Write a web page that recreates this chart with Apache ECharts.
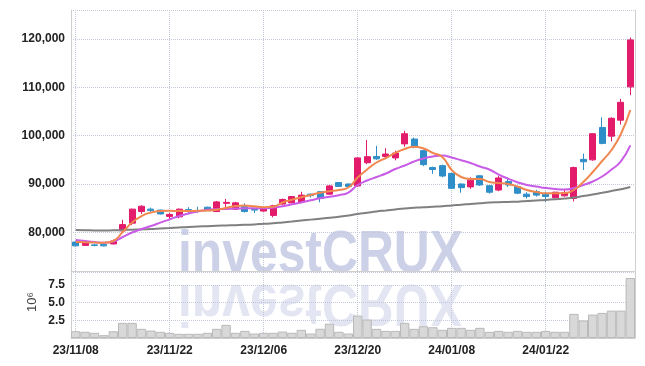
<!DOCTYPE html>
<html>
<head>
<meta charset="utf-8">
<script src="https://cdn.jsdelivr.net/npm/echarts@6/dist/echarts.min.js"></script>
<style>html,body{margin:0;padding:0;background:#fff}#c{width:645px;height:366px}</style>
</head>
<body>
<div id="c"></div>
<script>
const categories = ['23/11/08','23/11/09','23/11/10','23/11/13','23/11/14','23/11/15','23/11/16','23/11/17','23/11/20','23/11/21',
'23/11/22','23/11/23','23/11/24','23/11/27','23/11/28','23/11/29','23/11/30','23/12/01','23/12/04','23/12/05',
'23/12/06','23/12/07','23/12/08','23/12/11','23/12/12','23/12/13','23/12/14','23/12/15','23/12/18','23/12/19',
'23/12/20','23/12/21','23/12/22','23/12/26','23/12/27','23/12/28','24/01/02','24/01/03','24/01/04','24/01/05',
'24/01/08','24/01/09','24/01/10','24/01/11','24/01/12','24/01/15','24/01/16','24/01/17','24/01/18','24/01/19',
'24/01/22','24/01/23','24/01/24','24/01/25','24/01/26','24/01/29','24/01/30','24/01/31','24/02/01','24/02/02'];

const opens  = [78000,77300,77400,77500,77600,80300,81900,84300,84800,84600,83300,83200,84700,84500,85200,84300,86000,84800,85300,84800,84400,83500,85850,86100,86300,87900,88400,87900,90300,90000,89600,94400,95700,95700,95400,98300,99300,96900,93400,93800,92200,90000,89400,91700,89650,88750,90500,89450,87900,88400,87900,87150,87550,87000,95100,95000,101700,99900,103200,110100];
const closes = [77200,77800,77300,77200,78200,81600,84800,85400,84500,83800,83700,84800,84400,84400,84500,86300,86200,86100,84300,84600,85100,85500,86800,87400,87700,87600,87000,89600,89500,89500,95400,95650,95200,96200,96400,100400,97700,94000,93000,91650,89100,89250,90800,89800,88300,91250,89800,88100,87400,87700,87400,88300,88250,93400,94600,100400,98400,103600,106900,119800];
const lows   = [77100,77200,77100,77100,77500,80200,81500,83800,84100,83700,82600,82900,84000,84100,84400,84200,85200,84600,84100,84000,84300,83100,85700,86000,86200,87200,86200,87800,89400,89200,89400,94100,95000,95400,94900,97700,97400,93700,92100,91400,89000,88200,89000,89600,88000,88500,89400,87900,87000,87400,86300,87000,87400,86400,92900,94800,98200,98800,102300,108400];
const highs  = [78100,77900,77600,77600,78500,82600,84900,85600,85100,84700,84000,84900,85200,85300,85300,86500,86900,86300,86000,85000,85200,85700,87000,87500,88400,88000,88500,89800,90300,90100,95500,99100,97900,97400,96900,101000,99600,97100,93600,94000,92300,90100,91400,91800,89800,91700,91250,89500,88300,88800,88400,88400,88900,93600,96300,100500,103800,103800,107600,120300];

const maShort = [77990,77930,77890,77850,78200,80060,82030,83370,84100,84410,84450,84410,84410,84450,84510,84660,85030,85440,85550,85380,85180,85280,86170,86730,87270,87720,88200,88490,88760,89270,91340,93000,94450,95380,96420,97240,97720,97350,96420,95590,92900,91450,91030,91030,90410,90210,90000,89480,88760,88350,88070,88070,88140,88760,90410,92480,94760,97040,100350,105320];
const maMid   = [78410,78200,77990,77850,78100,79030,79960,80680,81300,82010,82690,83370,83890,84310,84660,84780,84820,84910,84970,84970,84970,85130,85400,85800,86190,86620,87040,87370,87680,88240,89790,90720,91450,92170,93100,93830,94660,95280,95690,95900,95480,94920,94350,93620,93000,91960,91100,90370,89790,89480,89170,88960,88860,89170,89790,90520,91550,93000,94660,97970];
const maLong  = [80480,80430,80390,80370,80430,80480,80540,80600,80680,80790,80890,81010,81120,81200,81280,81370,81430,81490,81550,81640,81760,81860,82050,82240,82440,82630,82820,83000,83210,83480,83790,84060,84330,84530,84740,84930,85070,85200,85300,85400,85570,85710,85880,86020,86150,86230,86290,86350,86480,86580,86690,86830,87000,87200,87510,87820,88180,88550,88920,89380];

// volume in millions (10^6)
const volumes = [0.95,0.87,0.73,0.40,0.95,2.13,2.13,1.29,1.05,0.87,0.73,0.59,0.59,0.59,0.73,1.29,1.85,0.73,1.00,0.63,0.73,0.73,0.91,0.73,1.15,0.63,1.30,2.02,0.87,0.63,3.16,2.60,1.29,1.00,1.00,2.13,1.29,1.66,1.52,1.15,1.43,1.43,1.15,1.43,0.87,1.00,0.87,1.00,0.87,0.87,1.00,0.87,0.87,3.40,2.46,3.30,3.54,3.86,3.86,8.45];

const FONT = "'Liberation Sans', Arial, sans-serif";
const candleData = opens.map((o, i) => [o, closes[i], lows[i], highs[i]]);

const gridLine = {type: 'dotted', color: '#c3c7da', width: 1};
const axisLineStyle = {color: '#cfcfcf', width: 1};
const labelStyle = {fontFamily: FONT, fontSize: 12, fontWeight: 'bold', color: '#222'};

const chart = echarts.init(document.getElementById('c'), null, {renderer: 'canvas'});
chart.setOption({
  animation: false,
  backgroundColor: '#ffffff',
  grid: [
    {left: 71, right: 10, top: 10, height: 261},
    {left: 71, right: 10, top: 272, height: 66}
  ],
  xAxis: [
    {type: 'category', gridIndex: 0, data: categories, boundaryGap: true,
     axisLine: {show: true, lineStyle: axisLineStyle}, axisTick: {show: false}, axisLabel: {show: false},
     splitLine: {show: true, interval: 9, alignWithLabel: true, lineStyle: gridLine}},
    {type: 'category', gridIndex: 1, data: categories, boundaryGap: true,
     axisLine: {show: true, lineStyle: axisLineStyle}, axisTick: {show: false, alignWithLabel: true},
     axisLabel: Object.assign({interval: 9, margin: 7}, labelStyle),
     splitLine: {show: true, interval: 9, alignWithLabel: true, lineStyle: gridLine}}
  ],
  yAxis: [
    {type: 'value', gridIndex: 0, min: 72000, max: 126000, splitNumber: 5, scale: true,
     axisLine: {show: true, lineStyle: axisLineStyle}, axisTick: {show: false},
     axisLabel: Object.assign({showMinLabel: false, showMaxLabel: false, margin: 6,
       formatter: v => String(v).replace(/\B(?=(\d{3})+(?!\d))/g, ',')}, labelStyle),
     splitLine: {show: true, lineStyle: gridLine}},
    {type: 'value', gridIndex: 1, min: 0, max: 9.3, interval: 2.5,
     axisLine: {show: true, lineStyle: axisLineStyle}, axisTick: {show: false},
     axisLabel: Object.assign({showMinLabel: false, showMaxLabel: false, margin: 6,
       formatter: v => v.toFixed(1)}, labelStyle),
     splitLine: {show: true, lineStyle: gridLine}},
    {type: 'value', gridIndex: 0, position: 'right', min: 0, max: 1,
     axisLine: {show: true, onZero: false, lineStyle: axisLineStyle}, axisTick: {show: false}, axisLabel: {show: false}, splitLine: {show: false}},
    {type: 'value', gridIndex: 1, position: 'right', min: 0, max: 1,
     axisLine: {show: true, onZero: false, lineStyle: axisLineStyle}, axisTick: {show: false}, axisLabel: {show: false}, splitLine: {show: false}}
  ],
  graphic: [
    {type: 'text', x: 178, y: 225.5, scaleX: 0.83, z: -10, silent: true,
     style: {text: 'investCRUX', fontFamily: FONT, fontWeight: 'bold', fontSize: 60, fill: '#ccd1e8'}},
    {type: 'text', x: 178, y: 331.5, scaleX: 0.83, scaleY: -1, z: -10, silent: true,
     style: {text: 'investCRUX', fontFamily: FONT, fontWeight: 'bold', fontSize: 60, fill: '#e3e6f2'}},
    {type: 'text', x: 26, y: 312, rotation: Math.PI / 2, silent: true,
     style: {text: '10⁶', fontFamily: FONT, fontSize: 13, fill: '#444'}}
  ],
  series: [
    {name: 'MA long', type: 'line', xAxisIndex: 0, yAxisIndex: 0, data: maLong, smooth: true, symbol: 'none',
     lineStyle: {color: '#808080', width: 2}},
    {name: 'MA mid', type: 'line', xAxisIndex: 0, yAxisIndex: 0, data: maMid, smooth: true, symbol: 'none',
     lineStyle: {color: '#c95ce6', width: 2}},
    {name: 'MA short', type: 'line', xAxisIndex: 0, yAxisIndex: 0, data: maShort, smooth: true, symbol: 'none',
     lineStyle: {color: '#f0874f', width: 2}},
    {name: 'Price', type: 'candlestick', xAxisIndex: 0, yAxisIndex: 0, data: candleData, barWidth: '70%',
     itemStyle: {color: '#e31b6b', color0: '#2f8ec8', borderColor: '#e31b6b', borderColor0: '#2f8ec8', borderWidth: 1}},
    {name: 'Volume', type: 'bar', xAxisIndex: 1, yAxisIndex: 1, data: volumes, barCategoryGap: '0%',
     itemStyle: {color: '#d8d8d8', borderColor: '#b9b9b9', borderWidth: 1}}
  ]
});
</script>
</body>
</html>
